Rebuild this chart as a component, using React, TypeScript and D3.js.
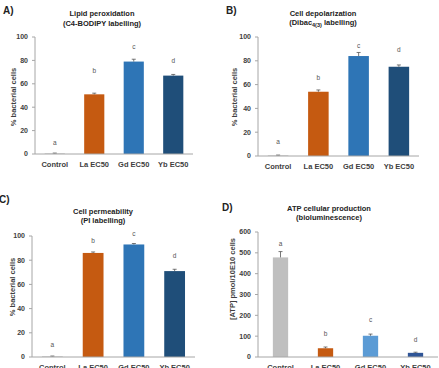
import React from 'react';
import * as d3 from 'd3';

const categories = ['Control', 'La EC50', 'Gd EC50', 'Yb EC50'];
const letters = ['a', 'b', 'c', 'd'];

// A) lipid peroxidation
const lipidValues = [0.5, 51, 79, 67];
const lipidErrors = [0.3, 1, 2, 1];
const lipidLetterAt = [10, 71, 92, 80];

// B) cell depolarization
const depolValues = [0.5, 54, 84, 75];
const depolErrors = [0.3, 1.5, 3, 1.5];
const depolLetterAt = [12, 66, 93, 89];

// C) cell permeability
const permValues = [0.5, 86, 93, 71];
const permErrors = [0.3, 0.8, 0.8, 1.5];
const permLetterAt = [10.5, 96, 102, 84];

// D) ATP production
const atpValues = [478, 42, 102, 20];
const atpErrors = [28, 6, 8, 3];
const atpLetterAt = [542, 114, 178, 85];

const colorsABC = ['#bfbfbf', '#c55a11', '#2e75b6', '#1f4e79'];
const colorsD = ['#bfbfbf', '#c55a11', '#5b9bd5', '#2f5597'];

const font = '"Liberation Sans", Arial, sans-serif';
const axisColor = '#a6a6a6';
const textColor = '#404040';

type PanelProps = {
    tag: string;
    tagX: number;
    tagY: number;
    title: React.ReactNode;
    subtitle: React.ReactNode;
    titleX: number;
    titleY: number;
    yLabel: string;
    yLabelX: number;
    yLabelY: number;
    x0: number;
    x1: number;
    yTop: number;
    yBottom: number;
    max: number;
    step: number;
    padding: number;
    values: number[];
    errors: number[];
    letterAt: number[];
    colors: string[];
};

function Panel(props: PanelProps) {
    const xScale = d3
        .scaleBand<string>()
        .domain(categories)
        .range([props.x0, props.x1])
        .paddingInner(props.padding)
        .paddingOuter(props.padding / 2);

    const yScale = d3
        .scaleLinear()
        .domain([0, props.max])
        .range([props.yBottom, props.yTop]);

    const ticks = d3.range(0, props.max + 1, props.step);
    const bw = xScale.bandwidth();

    return (
        <g fontFamily={font}>
            <text x={props.tagX} y={props.tagY} fontSize={10} fontWeight="bold" fill="#222">
                {props.tag}
            </text>
            <text x={props.titleX} y={props.titleY} fontSize={7.5} fontWeight="bold" fill="#222" textAnchor="middle">
                {props.title}
            </text>
            <text x={props.titleX} y={props.titleY + 9.5} fontSize={7.5} fontWeight="bold" fill="#222" textAnchor="middle">
                {props.subtitle}
            </text>
            <text
                transform={`translate(${props.yLabelX},${props.yLabelY}) rotate(-90)`}
                fontSize={7.5}
                fontWeight="bold"
                fill={textColor}
                textAnchor="middle"
                dy="0.35em"
            >
                {props.yLabel}
            </text>

            {categories.map((c, i) => {
                const x = xScale(c) as number;
                const cx = x + bw / 2;
                const top = yScale(props.values[i]);
                const errTop = yScale(props.values[i] + props.errors[i]);
                return (
                    <g key={c}>
                        <rect
                            x={x}
                            y={top}
                            width={bw}
                            height={props.yBottom - top}
                            fill={props.colors[i]}
                        />
                        <line x1={cx} x2={cx} y1={top} y2={errTop} stroke="#555" strokeWidth={0.8} />
                        <line x1={cx - 2} x2={cx + 2} y1={errTop} y2={errTop} stroke="#555" strokeWidth={0.8} />
                        <text
                            x={cx}
                            y={yScale(props.letterAt[i])}
                            fontSize={6.5}
                            fill="#555"
                            textAnchor="middle"
                            dy="0.35em"
                        >
                            {letters[i]}
                        </text>
                        <text
                            x={cx}
                            y={props.yBottom + 13}
                            fontSize={7.5}
                            fontWeight="bold"
                            fill={textColor}
                            textAnchor="middle"
                        >
                            {c}
                        </text>
                    </g>
                );
            })}

            <line x1={props.x0} x2={props.x1} y1={props.yBottom} y2={props.yBottom} stroke={axisColor} strokeWidth={1} />
            <line x1={props.x0} x2={props.x0} y1={props.yTop} y2={props.yBottom} stroke={axisColor} strokeWidth={1} />
            {ticks.map((t) => (
                <g key={t}>
                    <line
                        x1={props.x0 - 3}
                        x2={props.x0}
                        y1={yScale(t)}
                        y2={yScale(t)}
                        stroke={axisColor}
                        strokeWidth={1}
                    />
                    <text
                        x={props.x0 - 7}
                        y={yScale(t)}
                        fontSize={7}
                        fontWeight="bold"
                        fill={textColor}
                        textAnchor="end"
                        dy="0.35em"
                    >
                        {t}
                    </text>
                </g>
            ))}
        </g>
    );
}

export default function App() {
    return (
        <svg
            width={439}
            height={368}
            style={{ position: 'absolute', left: 0, top: 0, background: '#fff' }}
        >
            <Panel
                tag="A)" tagX={3} tagY={14}
                title="Lipid peroxidation" subtitle="(C4-BODIPY labelling)"
                titleX={102} titleY={16}
                yLabel="% bacterial cells" yLabelX={13} yLabelY={97}
                x0={35} x1={193} yTop={37} yBottom={154}
                max={100} step={20} padding={0.49}
                values={lipidValues} errors={lipidErrors} letterAt={lipidLetterAt}
                colors={colorsABC}
            />
            <Panel
                tag="B)" tagX={226} tagY={14}
                title="Cell depolarization"
                subtitle={
                    <>
                        (Dibac
                        <tspan fontSize={5.5} dy={2}>4(3)</tspan>
                        <tspan dy={-2}> labelling)</tspan>
                    </>
                }
                titleX={323} titleY={15.5}
                yLabel="% bacterial cells" yLabelX={234} yLabelY={97}
                x0={258} x1={419} yTop={37} yBottom={156}
                max={100} step={20} padding={0.49}
                values={depolValues} errors={depolErrors} letterAt={depolLetterAt}
                colors={colorsABC}
            />
            <Panel
                tag="C)" tagX={-1} tagY={203}
                title="Cell permeability" subtitle="(PI labelling)"
                titleX={103} titleY={213.5}
                yLabel="% bacterial cells" yLabelX={12} yLabelY={287}
                x0={32} x1={195} yTop={236} yBottom={357}
                max={100} step={20} padding={0.49}
                values={permValues} errors={permErrors} letterAt={permLetterAt}
                colors={colorsABC}
            />
            <Panel
                tag="D)" tagX={222} tagY={211}
                title="ATP cellular production" subtitle="(bioluminescence)"
                titleX={329} titleY={210.7}
                yLabel="[ATP] pmol/10E10 cells" yLabelX={232} yLabelY={279}
                x0={258} x1={438} yTop={232} yBottom={357}
                max={600} step={100} padding={0.66}
                values={atpValues} errors={atpErrors} letterAt={atpLetterAt}
                colors={colorsD}
            />
        </svg>
    );
}
